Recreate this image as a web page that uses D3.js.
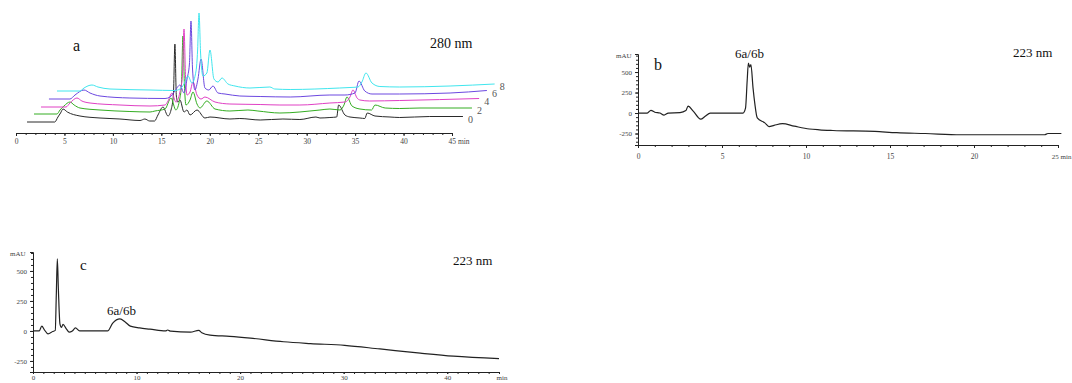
<!DOCTYPE html>
<html>
<head>
<meta charset="utf-8">
<script src="https://cdn.jsdelivr.net/npm/d3@7"></script>
<style>
  body { margin: 0; background: #fff; }
  svg { display: block; font-family: "Liberation Serif", "DejaVu Serif", serif; }
  .tick text { fill: #444; }
  .domain, .tick line { stroke: #222; }
</style>
</head>
<body>
<svg id="chart" width="1072" height="383"></svg>
<script>
// ---- panel a : 280 nm, stacked runs (time in min, height above own baseline) ----
const runLabels = ["0", "2", "4", "6", "8"];
const runColors = ["#2a2a2a", "#34ad22", "#e040c4", "#6c48e0", "#40e6ee"];
const runOffsets = [11, 19, 26, 34, 42];

const run0 = [[1.14,0],[4.0,0],[4.33,5],[4.6,9],[4.85,13],[5.3,10],[6.6,6],[8.67,4],[10.73,3],[12.8,1.5],[13.3,3],[13.8,1],[14.3,1],
  [14.65,7],[15.17,15],[15.69,6],[16.0,12],[16.25,28],[16.4,78],[16.55,26],[16.7,20],[16.92,22],[17.34,10],[17.65,12],[17.96,7],
  [18.68,12],[19.5,4],[20.02,5],[22.08,3],[23.1,3.5],[25.2,2],[27.55,3],[29.3,2.5],[30.96,5],[31.37,4],[32.4,4.5],[33.1,5],
  [33.3,17],[33.95,7],[34.47,5],[35.5,4],[36.0,3.5],[36.25,9],[37.05,6],[38.6,5],[39.6,4.5],[42.7,5.5],[46.13,5.5]];
const run2 = [[1.86,0],[4.23,0],[4.54,4],[4.95,8],[5.57,12],[6.0,9],[6.6,6],[8.67,4],[11.76,2.5],[13.83,2],[14.34,3],[15.38,5],
  [16.0,16],[16.5,4],[16.9,15],[17.08,30],[17.23,78],[17.38,30],[17.54,9],[17.96,14],[18.27,22],[18.68,10],[18.99,6],[19.7,13],
  [20.54,5],[22.08,3],[23.94,4],[24.97,3],[27.24,1],[31.37,4],[32.4,5],[33.44,4],[33.85,9],[34.16,17],[34.68,8],[35.5,5],
  [36.7,4],[37.05,9],[38.1,6],[39.6,5.5],[41.7,6],[47.06,6]];
const run4 = [[2.58,0],[5.16,0],[5.57,4],[6.29,9],[6.8,6],[7.64,4],[10.73,2],[13.83,1],[15.38,2],[15.69,6],[16.1,14],[16.5,5],
  [16.92,15],[17.18,32],[17.34,78],[17.5,30],[17.65,12],[17.96,15],[18.27,25],[18.68,12],[19.1,8],[19.5,10],[20.54,5],
  [22.08,3],[25.2,2.5],[27.24,2],[29.3,2],[32.4,4],[33.95,5],[34.47,10],[34.78,17],[35.2,9],[35.5,7],[36.5,6],[39.6,6.5],[47.8,8.5]];
const run6 = [[3.4,0],[5.57,0],[6.09,4],[7.02,9],[7.64,6],[8.67,3],[11.76,1],[15.38,0.5],[15.9,2],[16.4,8],[16.92,14],[17.34,6],
  [17.65,20],[17.9,35],[18.06,78],[18.22,30],[18.47,9],[18.78,20],[19.1,40],[19.5,11],[19.9,9],[20.33,13],[20.85,6],[21.57,5],
  [23.1,3],[25.2,2.5],[28.3,2],[32.4,4],[33.95,4],[34.99,6],[35.4,18],[36.0,8],[36.74,5],[39.6,5],[44.8,6],[48.6,8.5]];
const run8 = [[4.23,0],[6.6,0],[7.02,3],[7.84,6],[8.46,4],[9.7,2],[13.83,1],[16.4,0.5],[16.92,2],[17.34,7],[17.75,15],[18.16,8],
  [18.58,20],[18.74,40],[18.89,78],[19.05,38],[19.3,15],[19.7,18],[20.02,41],[20.43,12],[20.85,9],[21.26,13],[21.88,7],[22.6,5],
  [24.15,3],[26.2,4],[26.7,2],[28.3,1.5],[33.4,3],[34.47,3.5],[35.3,4],[35.7,9],[36.12,18],[36.74,8],[37.56,4.5],[39.6,4],
  [44.8,5],[49.4,7]];
const runsA = [run0, run2, run4, run6, run8];
const ticksA = [0, 5, 10, 15, 20, 25, 30, 35, 40, 45];

// ---- panel b : 223 nm (min, mAU) ----
const traceB = [[0,0],[0.55,0],[0.77,33],[1.0,10],[1.3,0],[1.55,-25],[1.8,0],[2.5,5],[2.85,30],[2.98,85],[3.3,20],[3.73,-75],
  [4.0,-40],[4.3,0],[6.25,0],[6.4,60],[6.5,400],[6.57,610],[6.65,560],[6.72,590],[6.85,300],[6.95,120],[7.1,-60],[7.55,-120],
  [7.8,-165],[8.1,-150],[8.6,-130],[9.3,-160],[10.2,-195],[10.8,-205],[11.6,-213],[14.1,-225],[15.4,-240],[17.1,-250],
  [19.2,-265],[24.2,-265],[24.4,-250],[25.2,-250]];
const ticksBx = [0, 5, 10, 15, 20, 25];
const ticksBy = [-250, 0, 250, 500];

// ---- panel c : 223 nm (min, mAU) ----
const traceC = [[0,0],[0.6,0],[0.85,40],[1.1,10],[1.45,-25],[1.9,-5],[2.15,5],[2.25,300],[2.35,600],[2.45,350],[2.6,60],[2.75,30],
  [2.9,55],[3.2,20],[3.5,-10],[3.8,0],[4.1,25],[4.5,0],[7.2,0],[7.7,65],[8.4,100],[8.9,75],[9.4,40],[10.3,25],[11.3,15],
  [12.8,0],[13.0,8],[13.3,-2],[15.2,-10],[16.0,5],[16.3,-15],[17.1,-35],[19,-45],[21,-60],[24.2,-90],[26.8,-105],[30.1,-120],
  [33.5,-150],[37.4,-185],[40.6,-210],[45,-230]];
const ticksCx = [0, 10, 20, 30, 40];
const ticksCy = [-250, 0, 250, 500];

const svg = d3.select("#chart");
const serif = "Liberation Serif, DejaVu Serif, serif";
const plain = d => String(d); // keep ascii hyphen for negatives

function styleTicks(g, size) {
  g.attr("font-family", serif);
  g.selectAll(".tick text").attr("font-size", size);
  g.select(".domain").attr("stroke-width", 1);
}

// ================= panel a =================
const xA = d3.scaleLinear().domain([0, 45]).range([16, 452]);
const yA = d3.scaleLinear().domain([0, 120]).range([133, 13]);

const gA = svg.append("g");
gA.append("g")
  .attr("transform", "translate(0,133)")
  .call(d3.axisBottom(xA).tickValues(d3.range(0, 46, 1)).tickSize(2).tickFormat(""))
  .call(g => g.select(".domain").remove());
const axA = gA.append("g")
  .attr("transform", "translate(0,133)")
  .call(d3.axisBottom(xA).tickValues(ticksA).tickSizeOuter(0).tickSize(3).tickPadding(3).tickFormat(plain))
  .call(g => styleTicks(g, "7.5px"));
axA.selectAll(".tick text").filter(d => d === 45)
  .text("45 min").attr("text-anchor", "start").attr("dx", "-4");

const lineA = d3.line().x(d => xA(d[0])).y(d => yA(d[1])).curve(d3.curveMonotoneX);
runsA.forEach((run, i) => {
  const off = runOffsets[i];
  gA.append("path")
    .datum(run.map(d => [d[0], d[1] + off]))
    .attr("fill", "none")
    .attr("stroke", runColors[i])
    .attr("stroke-width", 1)
    .attr("d", lineA);
  const last = run[run.length - 1];
  gA.append("text")
    .attr("x", xA(last[0]) + 5)
    .attr("y", yA(last[1] + off) + 6)
    .attr("font-size", "10px")
    .attr("fill", "#555")
    .text(runLabels[i]);
});
gA.append("text").attr("x", 73).attr("y", 51).attr("font-size", "16px").attr("fill", "#111").text("a");
gA.append("text").attr("x", 430).attr("y", 48).attr("font-size", "14px").attr("fill", "#111").text("280 nm");

// ================= panel b =================
const xB = d3.scaleLinear().domain([0, 25]).range([638, 1058]);
const yB = d3.scaleLinear().domain([-390, 720]).range([145, 54]);
const gB = svg.append("g");

gB.append("g").attr("transform", "translate(0,145)")
  .call(d3.axisBottom(xB).tickValues(d3.range(0, 26, 1)).tickSize(2).tickFormat(""))
  .call(g => g.select(".domain").remove());
const axBx = gB.append("g").attr("transform", "translate(0,145)")
  .call(d3.axisBottom(xB).tickValues(ticksBx).tickSizeOuter(0).tickSize(3).tickPadding(6).tickFormat(plain))
  .call(g => styleTicks(g, "7.5px"));
axBx.selectAll(".tick text").filter(d => d === 25)
  .text("25 min").attr("text-anchor", "end").attr("x", 1071 - xB(25)).attr("font-size", "7px");

gB.append("g").attr("transform", "translate(638,0)")
  .call(d3.axisLeft(yB).tickValues(d3.range(-350, 701, 50)).tickSize(2).tickFormat(""))
  .call(g => g.select(".domain").remove());
gB.append("g").attr("transform", "translate(638,0)")
  .call(d3.axisLeft(yB).tickValues(ticksBy).tickSizeOuter(0).tickSize(3).tickPadding(3).tickFormat(plain))
  .call(g => styleTicks(g, "7px"));
gB.append("text").attr("x", 616).attr("y", 58).attr("font-size", "7px").attr("fill", "#444").text("mAU");

const lineB = d3.line().x(d => xB(d[0])).y(d => yB(d[1])).curve(d3.curveMonotoneX);
gB.append("path").datum(traceB).attr("fill", "none").attr("stroke", "#222").attr("stroke-width", 1.2).attr("d", lineB);
gB.append("text").attr("x", 654).attr("y", 70).attr("font-size", "16px").attr("fill", "#111").text("b");
gB.append("text").attr("x", 735).attr("y", 58).attr("font-size", "13px").attr("fill", "#111").text("6a/6b");
gB.append("text").attr("x", 1013).attr("y", 57).attr("font-size", "13px").attr("fill", "#111").text("223 nm");

// ================= panel c =================
const xC = d3.scaleLinear().domain([0, 45]).range([33, 499]);
const yC = d3.scaleLinear().domain([-342, 658]).range([372, 252]);
const gC = svg.append("g");

gC.append("g").attr("transform", "translate(0,372)")
  .call(d3.axisBottom(xC).tickValues(d3.range(0, 46, 1)).tickSize(2).tickFormat(""))
  .call(g => g.select(".domain").remove());
const axCx = gC.append("g").attr("transform", "translate(0,372)")
  .call(d3.axisBottom(xC).tickValues(ticksCx).tickSizeOuter(0).tickSize(2).tickPadding(1).tickFormat(plain))
  .call(g => styleTicks(g, "7px"));
axCx.append("text").attr("x", 502).attr("y", 8).attr("font-size", "7px").attr("fill", "#444").text("min");

gC.append("g").attr("transform", "translate(33,0)")
  .call(d3.axisLeft(yC).tickValues(d3.range(-300, 651, 50)).tickSize(2).tickFormat(""))
  .call(g => g.select(".domain").remove());
gC.append("g").attr("transform", "translate(33,0)")
  .call(d3.axisLeft(yC).tickValues(ticksCy).tickSizeOuter(0).tickSize(3).tickPadding(3).tickFormat(plain))
  .call(g => styleTicks(g, "7px"));
gC.append("text").attr("x", 10).attr("y", 256).attr("font-size", "7px").attr("fill", "#444").text("mAU");

const lineC = d3.line().x(d => xC(d[0])).y(d => yC(d[1])).curve(d3.curveMonotoneX);
gC.append("path").datum(traceC).attr("fill", "none").attr("stroke", "#222").attr("stroke-width", 1.2).attr("d", lineC);
gC.append("text").attr("x", 80).attr("y", 270).attr("font-size", "15px").attr("fill", "#111").text("c");
gC.append("text").attr("x", 107).attr("y", 315).attr("font-size", "13px").attr("fill", "#111").text("6a/6b");
gC.append("text").attr("x", 453).attr("y", 265).attr("font-size", "13px").attr("fill", "#111").text("223 nm");
</script>
</body>
</html>
